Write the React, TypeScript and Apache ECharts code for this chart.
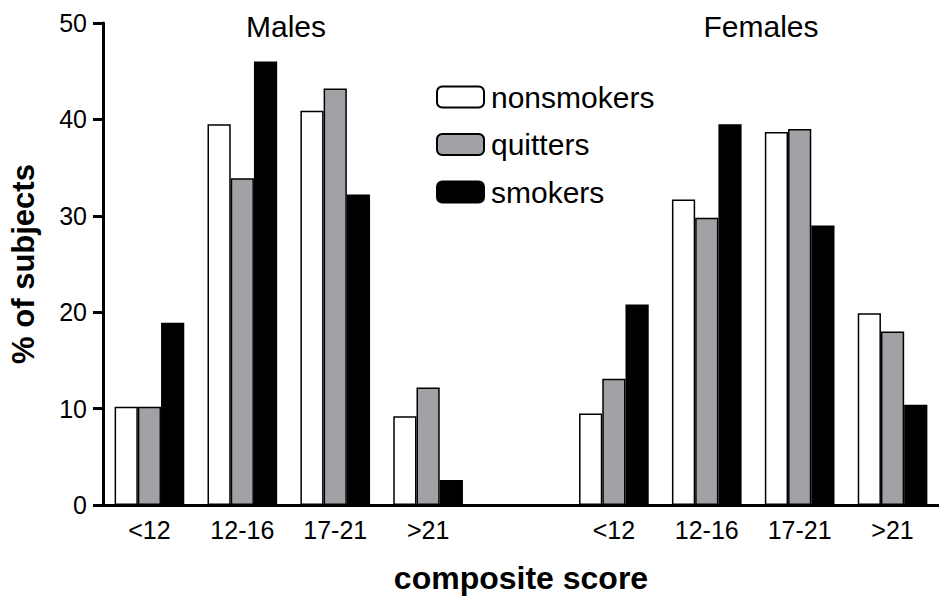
import React, { useEffect, useRef } from "react";
import * as echarts from "echarts";

const maleCategories = ["<12", "12-16", "17-21", ">21"];
const femaleCategories = ["<12", "12-16", "17-21", ">21"];
const seriesNames = ["nonsmokers", "quitters", "smokers"];

const nonsmokersMales = [10.2, 39.5, 40.9, 9.2];
const quittersMales = [10.2, 33.9, 43.2, 12.2];
const smokersMales = [18.9, 46.0, 32.2, 2.6];

const nonsmokersFemales = [9.5, 31.7, 38.7, 19.9];
const quittersFemales = [13.1, 29.8, 39.0, 18.0];
const smokersFemales = [20.8, 39.5, 29.0, 10.4];

const yTicks = [0, 10, 20, 30, 40, 50];

const FONT = "'Liberation Sans', Arial, sans-serif";

export default function App() {
  const ref = useRef<HTMLDivElement>(null);

  useEffect(() => {
    if (!ref.current) return;
    const chart = echarts.init(ref.current, null, { renderer: "svg" });
    const categories = [...maleCategories, "", ...femaleCategories];
    const build = (m: number[], f: number[]) => [...m, "-", ...f];
    const colors = ["#ffffff", "#a2a2a6", "#000000"];
    const dataSets = [
      build(nonsmokersMales, nonsmokersFemales),
      build(quittersMales, quittersFemales),
      build(smokersMales, smokersFemales),
    ];

    chart.setOption({
      animation: false,
      backgroundColor: "#ffffff",
      textStyle: { fontFamily: FONT },
      grid: {
        left: 103,
        right: 0,
        top: 23,
        bottom: 96,
        containLabel: false,
        outerBoundsMode: "none",
      },
      legend: {
        orient: "vertical",
        left: 436,
        top: 82,
        padding: 0,
        itemWidth: 47,
        itemHeight: 21,
        itemGap: 17.5,
        selectedMode: false,
        data: seriesNames,
        textStyle: { fontSize: 30, color: "#000", fontFamily: FONT, padding: [0, 0, 0, 2] },
      },
      graphic: [
        {
          type: "text",
          x: 286,
          y: 26,
          style: {
            text: "Males",
            font: `30px ${FONT}`,
            fill: "#000",
            textAlign: "center",
            textVerticalAlign: "middle",
          },
        },
        {
          type: "text",
          x: 761,
          y: 26,
          style: {
            text: "Females",
            font: `30px ${FONT}`,
            fill: "#000",
            textAlign: "center",
            textVerticalAlign: "middle",
          },
        },
      ],
      xAxis: {
        type: "category",
        data: categories,
        name: "composite score",
        nameLocation: "middle",
        nameGap: 57,
        nameTextStyle: { fontSize: 32, fontWeight: "bold", color: "#000", fontFamily: FONT },
        axisLine: { lineStyle: { color: "#000", width: 3 } },
        axisTick: { show: false },
        axisLabel: { fontSize: 25, color: "#000", margin: 12, interval: 0, fontFamily: FONT },
      },
      yAxis: {
        type: "value",
        min: yTicks[0],
        max: yTicks[yTicks.length - 1],
        interval: 10,
        name: "% of subjects",
        nameLocation: "middle",
        nameGap: 64,
        nameTextStyle: { fontSize: 31, fontWeight: "bold", color: "#000", fontFamily: FONT },
        axisLine: { show: true, lineStyle: { color: "#000", width: 3 } },
        axisTick: { show: true, length: 10, lineStyle: { color: "#000", width: 3 } },
        axisLabel: { fontSize: 25, color: "#000", margin: 16, fontFamily: FONT },
        splitLine: { show: false },
      },
      series: seriesNames.map((name, i) => ({
        name,
        type: "bar",
        data: dataSets[i],
        barGap: "0%",
        barCategoryGap: "25%",
        itemStyle: { color: colors[i], borderColor: "#000", borderWidth: 1.5 },
      })),
    });

    return () => chart.dispose();
  }, []);

  return (
    <div
      ref={ref}
      style={{ position: "fixed", left: 0, top: 0, width: 939, height: 601, background: "#fff" }}
    />
  );
}
